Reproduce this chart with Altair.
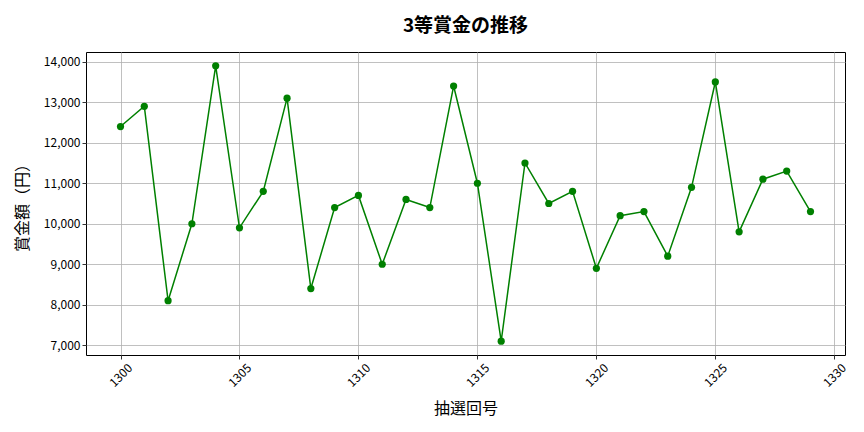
import altair as alt
import pandas as pd

draws = list(range(1300, 1330))
prizes = [12400, 12900, 8100, 10000, 13900, 9900, 10800, 13100, 8400, 10400,
          10700, 9000, 10600, 10400, 13400, 11000, 7100, 11500, 10500, 10800,
          8900, 10200, 10300, 9200, 10900, 13500, 9800, 11100, 11300, 10300]
x_ticks = [1300, 1305, 1310, 1315, 1320, 1325, 1330]
y_ticks = [7000, 8000, 9000, 10000, 11000, 12000, 13000, 14000]

df = pd.DataFrame({"draw": draws, "prize": prizes})

FONT = "Noto Sans CJK JP"
GREEN = "#008000"

x = alt.X("draw:Q",
          scale=alt.Scale(domain=[1298.55, 1330.45], nice=False, zero=False),
          axis=alt.Axis(title="抽選回号", values=x_ticks, format="d",
                        labelAngle=-45, labelAlign="center", labelBaseline="middle",
                        labelPadding=16, titleX=379.5, titleY=53,
                        titleAlign="center", titleBaseline="middle"))
y = alt.Y("prize:Q",
          scale=alt.Scale(domain=[6760, 14240], nice=False, zero=False),
          axis=alt.Axis(title="賞金額（円）", values=y_ticks, format=",d",
                        titleX=-64, titleY=151.5, titleAngle=-90,
                        titleAlign="center", titleBaseline="middle"))

line = alt.Chart(df).mark_line(color=GREEN, strokeWidth=1.5).encode(x=x, y=y)
pts = alt.Chart(df).mark_circle(color=GREEN, size=52, opacity=1).encode(x=x, y=y)

chart = (line + pts).properties(
    width=759, height=303,
    background="white",
    title=alt.TitleParams("3等賞金の推移", font=FONT, fontSize=19, fontWeight="bold",
                          anchor="middle", offset=16, color="#000000"),
    autosize=alt.AutoSizeParams(type="none"),
    padding={"left": 78, "top": 44, "right": 11, "bottom": 69},
).configure_view(
    stroke="#000000", strokeWidth=1
).configure_axis(
    labelFont=FONT, titleFont=FONT, labelFontSize=12, titleFontSize=16,
    labelColor="#000000", titleColor="#000000", titleFontWeight="normal",
    grid=True, gridColor="#b0b0b0", gridWidth=0.8,
    domain=False, tickColor="#000000", tickSize=4, tickWidth=0.8,
)

chart.save("out.html", embed_options={"renderer": "svg", "actions": False})
